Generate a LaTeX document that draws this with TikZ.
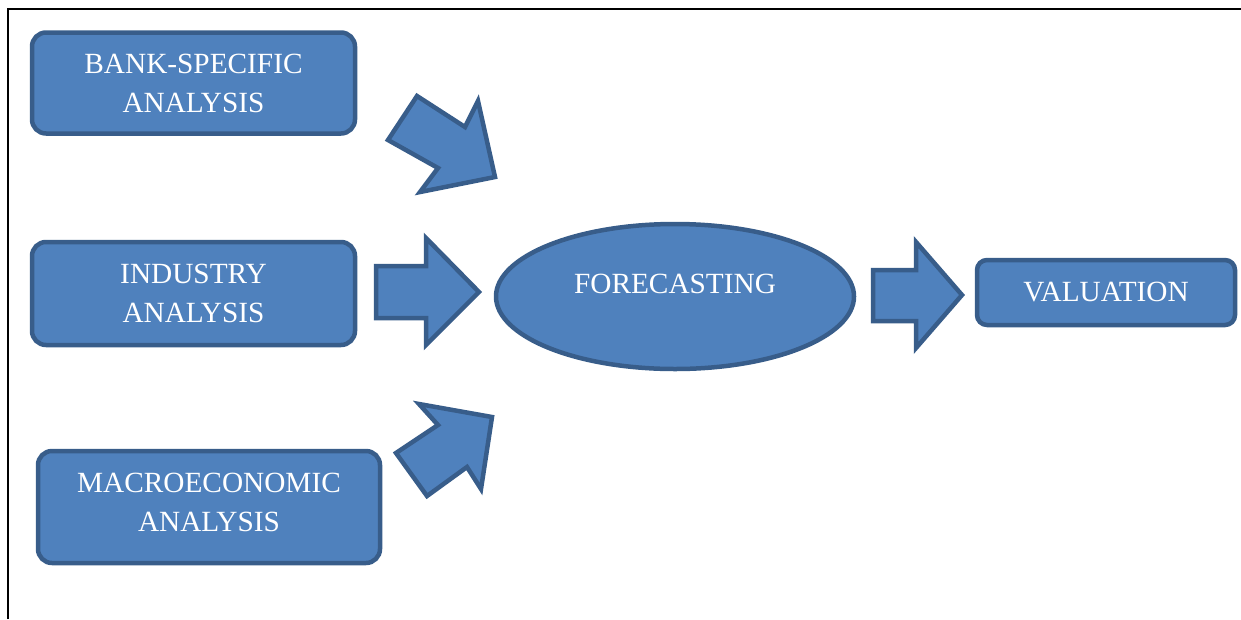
\documentclass[tikz,border=0pt]{standalone}
\usepackage{fontspec}
\setmainfont{Liberation Serif}
\usetikzlibrary{shapes.geometric}
\definecolor{fillblue}{HTML}{4F81BD}
\definecolor{edgeblue}{HTML}{385D8A}
\tikzset{
  blockbox/.style={draw=edgeblue, fill=fillblue, line width=4.5pt, rounded corners=14pt,
    text=white, align=center, font=\fontsize{29.3}{39}\selectfont, inner sep=0pt},
  ovalbox/.style={ellipse, draw=edgeblue, fill=fillblue, line width=4.5pt,
    text=white, align=center, font=\fontsize{29.3}{39}\selectfont, inner sep=0pt},
  blockarrow/.style={draw=edgeblue, fill=fillblue, line width=4.5pt, line join=miter},
  frameline/.style={draw=black, line width=2.8pt}
}
\begin{document}
\begin{tikzpicture}[x=1pt, y=-1pt]
\useasboundingbox (0,0) rectangle (1241,619);
% frame
\draw[frameline] (8,619) -- (8,9) -- (1241,9);
% boxes
\node[blockbox, minimum width=323pt, minimum height=101pt] (bank) at (193.5,83) {\raisebox{-2pt}[\height][\depth]{\begin{tabular}{@{}c@{}}BANK-SPECIFIC\\ANALYSIS\end{tabular}}};
\node[blockbox, minimum width=323pt, minimum height=103pt] (industry) at (193.5,293.5) {INDUSTRY\\ANALYSIS};
\node[blockbox, minimum width=342pt, minimum height=112pt] (macro) at (209,507) {\raisebox{3pt}[\height][\depth]{\begin{tabular}{@{}c@{}}MACROECONOMIC\\ANALYSIS\end{tabular}}};
\node[ovalbox, minimum width=358pt, minimum height=145pt] (fore) at (675,296.5) {\raisebox{13pt}[\height][\depth]{FORECASTING}};
\node[blockbox, minimum width=258pt, minimum height=65pt, rounded corners=10pt] (val) at (1106,292.5) {VALUATION};
% block arrows
\draw[blockarrow] (417,96) -- (465,127) -- (478,101) -- (495,177) -- (420,192) -- (438,168) -- (388,140) -- cycle;
\draw[blockarrow] (376,266) -- (426,266) -- (426,238) -- (479,292) -- (426,345) -- (426,318) -- (376,318) -- cycle;
\draw[blockarrow] (396,453) -- (438,425) -- (419,404) -- (492,417) -- (481,489) -- (467,467) -- (427,496) -- cycle;
\draw[blockarrow] (873,270) -- (916,270) -- (916,242) -- (962,295) -- (916,348) -- (916,321) -- (873,321) -- cycle;
\end{tikzpicture}
\end{document}
